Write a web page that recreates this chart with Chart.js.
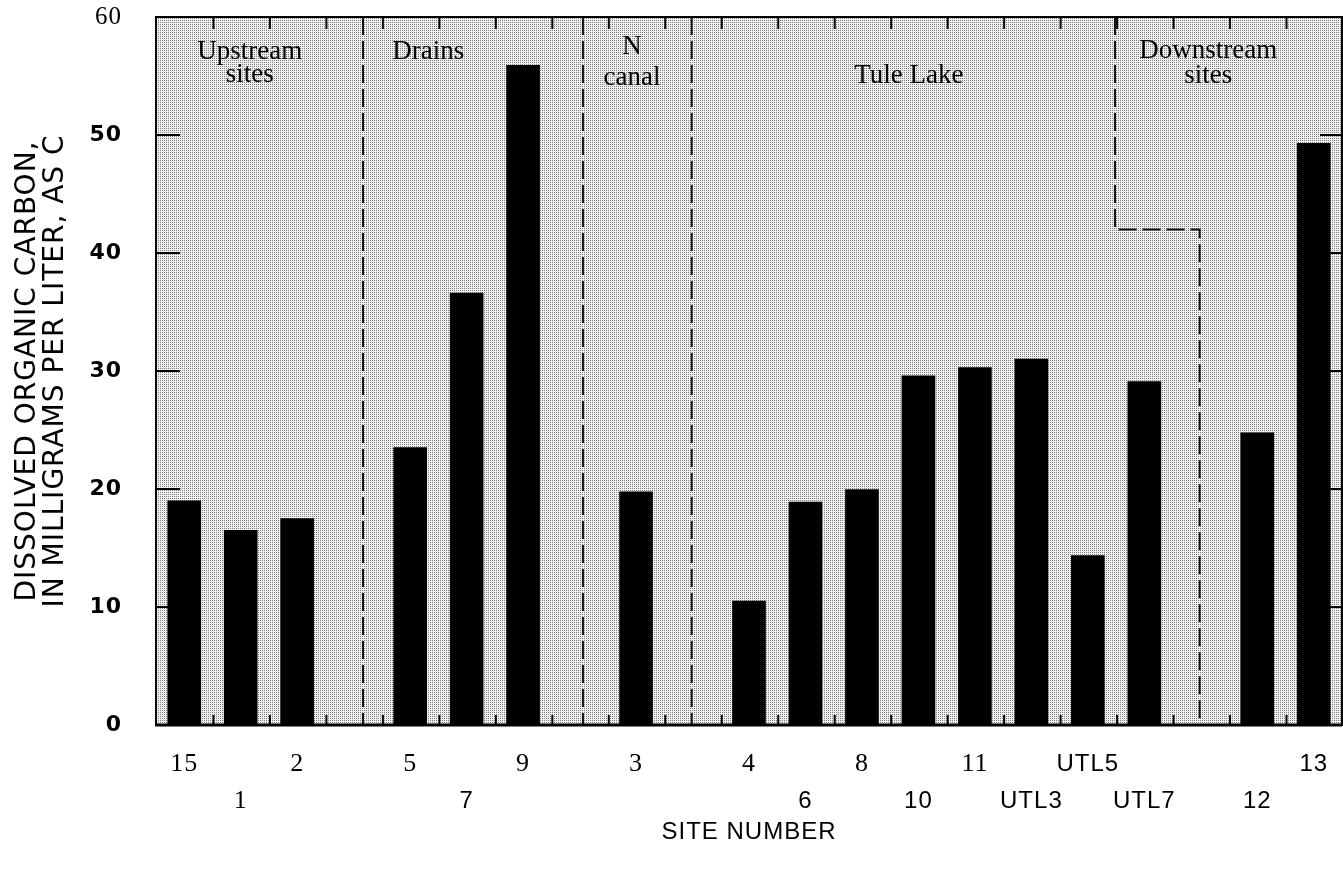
<!DOCTYPE html>
<html>
<head>
<meta charset="utf-8">
<script src="https://cdn.jsdelivr.net/npm/chart.js@4.4.0/dist/chart.umd.min.js"></script>
<style>
  html, body { margin: 0; padding: 0; background: #fff; }
  #wrap { width: 1343px; height: 871px; }
</style>
</head>
<body>
<div id="wrap"><canvas id="docChart"></canvas></div>
<script>
// site numbers, two rows of labels under the axis ('' = empty slot)
var tickLabels = [
  ['15', ''], ['', '1'], ['2', ''], ['', ''],
  ['5', ''], ['', '7'], ['9', ''], ['', ''],
  ['3', ''], ['', ''],
  ['4', ''], ['', '6'], ['8', ''], ['', '10'], ['11', ''], ['', 'UTL3'], ['UTL5', ''], ['', 'UTL7'], ['', ''],
  ['', '12'], ['13', '']
];
// dissolved organic carbon, mg/L as C
var doc = [19.0, 16.5, 17.5, null, 23.5, 36.6, 55.9, null, 19.75, null,
           10.5, 18.9, 19.95, 29.6, 30.3, 31.0, 14.35, 29.1, null, 24.75, 49.3];
var yTicks = [0, 10, 20, 30, 40, 50, 60];
var serifLabels = ['15', '1', '2', '5', '9', '3', '4', '8', '11'];
var regionNames = [['Upstream', 'sites'], ['Drains'], ['N', 'canal'], ['Tule Lake'], ['Downstream', 'sites']];

// where the region names and dashed dividers sit (x = category index, y = axis value)
var regionPos = [
  {x: 1.16, y: [57.05, 55.1]},
  {x: 4.32, y: [57.05]},
  {x: 7.93, y: [57.5, 54.8]},
  {x: 12.83, y: [55.0]},
  {x: 18.13, y: [57.1, 55.0]}
];
var dividers = [
  [[3.165, 60], [3.165, 0]],
  [[7.06, 60], [7.06, 0]],
  [[8.985, 60], [8.985, 0]],
  [[16.48, 60], [16.48, 42.0], [17.98, 42.0], [17.98, 0]]
];

function stipple(ctx) {
  var c = document.createElement('canvas');
  c.width = 2; c.height = 2;
  var g = c.getContext('2d');
  g.fillStyle = '#f0f0f0';
  g.fillRect(0, 0, 2, 2);
  g.fillStyle = '#808080';
  g.fillRect(0, 0, 1, 1);
  return ctx.createPattern(c, 'repeat');
}

// the scanned lettering is a bit wide, so open up the axis text a little
function spaceText(chart) { chart.ctx.letterSpacing = '1px'; }

var decor = {
  id: 'decor',
  beforeLayout: spaceText,
  beforeDraw: spaceText,
  beforeDatasetsDraw: function(chart) {
    var ctx = chart.ctx, a = chart.chartArea;
    ctx.save();
    ctx.fillStyle = stipple(ctx);
    ctx.fillRect(a.left, a.top, a.right - a.left, a.bottom - a.top);
    ctx.restore();
  },
  afterDatasetsDraw: function(chart) {
    var ctx = chart.ctx, a = chart.chartArea;
    var x = chart.scales.x, y = chart.scales.y;
    ctx.save();

    // dashed region dividers
    ctx.strokeStyle = '#111';
    ctx.lineWidth = 2;
    ctx.setLineDash([18, 6]);
    dividers.forEach(function(seg) {
      ctx.beginPath();
      seg.forEach(function(p, i) {
        var px = x.getPixelForValue(p[0]), py = y.getPixelForValue(p[1]);
        if (i == 0) ctx.moveTo(px, py); else ctx.lineTo(px, py);
      });
      ctx.stroke();
    });
    ctx.setLineDash([]);

    // frame
    ctx.strokeStyle = '#000';
    ctx.lineWidth = 2;
    ctx.strokeRect(a.left, a.top, a.right - a.left, a.bottom - a.top);
    ctx.lineWidth = 3;
    ctx.beginPath();
    ctx.moveTo(a.left - 1, a.bottom);
    ctx.lineTo(a.right, a.bottom);
    ctx.stroke();

    // inward tick marks
    ctx.lineWidth = 2;
    ctx.beginPath();
    for (var v = 10; v <= 50; v += 10) {
      var py = y.getPixelForValue(v);
      ctx.moveTo(a.left, py); ctx.lineTo(a.left + 24, py);
      ctx.moveTo(a.right, py); ctx.lineTo(a.right - 22, py);
    }
    for (var k = 1; k < tickLabels.length; k++) {
      var px = x.getPixelForValue(k - 0.5) + 1;
      ctx.moveTo(px, a.bottom); ctx.lineTo(px, a.bottom - 10);
      ctx.moveTo(px, a.top); ctx.lineTo(px, a.top + 12);
    }
    ctx.stroke();

    // region names
    ctx.letterSpacing = '0px';
    ctx.fillStyle = '#000';
    ctx.font = '27px "Liberation Serif", "Times New Roman", serif';
    ctx.textAlign = 'center';
    ctx.textBaseline = 'middle';
    regionNames.forEach(function(lines, i) {
      var pos = regionPos[i];
      lines.forEach(function(t, j) {
        ctx.fillText(t, x.getPixelForValue(pos.x), y.getPixelForValue(pos.y[j]));
      });
    });
    ctx.restore();
  }
};

var ctx = document.getElementById('docChart').getContext('2d');
var myChart = new Chart(ctx, {
  type: 'bar',
  data: {
    labels: tickLabels,
    datasets: [{
      data: doc,
      backgroundColor: '#000',
      borderWidth: 0,
      barThickness: 33
    }]
  },
  options: {
    responsive: true,
    maintainAspectRatio: false,
    animation: false,
    layout: { padding: { top: 17, right: 1, left: 0, bottom: 0 } },
    plugins: { legend: { display: false }, tooltip: { enabled: false } },
    scales: {
      x: {
        grid: { display: false, drawTicks: false },
        border: { display: false },
        afterFit: function(s) { s.height = 146; s.paddingLeft = 0; s.paddingRight = 0; },
        ticks: {
          autoSkip: false,
          maxRotation: 0,
          padding: 21,
          color: '#000',
          font: function(c) {
            var t = tickLabels[c.index] || ['', ''];
            var name = t[0] || t[1];
            if (serifLabels.indexOf(name) >= 0)
              return { family: '"Liberation Serif", "Times New Roman", serif', size: 26, lineHeight: '37px' };
            return { family: '"Liberation Sans", Arial, sans-serif', size: 24, lineHeight: '37px' };
          }
        },
        title: {
          display: true,
          text: 'SITE NUMBER',
          color: '#000',
          font: { family: '"Liberation Sans", Arial, sans-serif', size: 24 },
          padding: { top: 0, bottom: 24 }
        }
      },
      y: {
        min: 0,
        max: 60,
        afterFit: function(s) { s.width = 156; s.paddingTop = 0; s.paddingBottom = 0; },
        afterBuildTicks: function(s) { s.ticks = yTicks.map(function(v) { return { value: v }; }); },
        grid: { display: false, drawTicks: false },
        border: { display: false },
        ticks: {
          padding: 34,
          color: '#000',
          font: function(c) {
            if (c.tick && c.tick.value == 60)
              return { family: '"Liberation Serif", "Times New Roman", serif', size: 25 };
            return { family: '"DejaVu Sans", sans-serif', size: 22, weight: 'bold' };
          }
        },
        title: {
          display: true,
          text: ['DISSOLVED ORGANIC CARBON,', 'IN MILLIGRAMS PER LITER, AS C'],
          color: '#000',
          font: { family: '"DejaVu Sans", sans-serif', size: 28, lineHeight: '28px' },
          padding: { top: 14, bottom: 0 }
        }
      }
    }
  },
  plugins: [decor]
});
</script>
</body>
</html>
